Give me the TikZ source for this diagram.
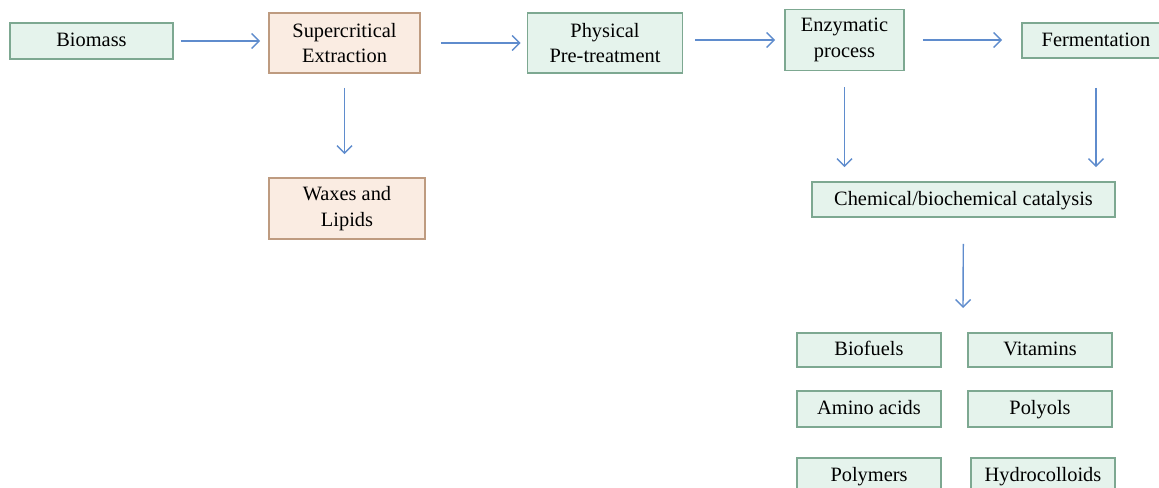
\documentclass[tikz,border=0pt]{standalone}
\usepackage{fontspec}
\setmainfont{Liberation Serif}
\usetikzlibrary{arrows.meta}
\definecolor{boxgreen}{RGB}{229,243,236}
\definecolor{linegreen}{RGB}{125,168,145}
\definecolor{boxpeach}{RGB}{250,236,226}
\definecolor{linepeach}{RGB}{190,155,128}
\definecolor{arrowblue}{RGB}{95,140,205}
\begin{document}
\begin{tikzpicture}
                \tikzstyle{gbox}=[rectangle, draw=linegreen, fill=boxgreen, line width=0.9pt, align=center, inner sep=0pt, font=\fontsize{11.6}{14.5}\selectfont]
                \tikzstyle{pbox}=[gbox, draw=linepeach, fill=boxpeach]
                \tikzstyle{sbox}=[gbox, text height=0.9em, text depth=0.24em]
                \tikzstyle{arr}=[draw=arrowblue, line width=0.8pt, -{Straight Barb[length=1.5mm, width=3mm]}]
                \useasboundingbox (0,0) rectangle (23.18,-9.76);

                \node[sbox, minimum width=3.26cm, minimum height=0.72cm] (bio) at (1.83,-0.82) {Biomass};
                \node[pbox, minimum width=3.02cm, minimum height=1.2cm]  (sce) at (6.89,-0.86) {Supercritical\\Extraction};
                \node[gbox, minimum width=3.1cm, minimum height=1.2cm]   (phy) at (12.1,-0.86) {Physical\\Pre-treatment};
                \node[gbox, minimum width=2.38cm, minimum height=1.22cm] (enz) at (16.89,-0.80) {Enzymatic\\process};
                \node[sbox, minimum width=2.96cm, minimum height=0.7cm]  (fer) at (21.92,-0.81) {Fermentation};
                \node[pbox, minimum width=3.12cm, minimum height=1.22cm] (wax) at (6.94,-4.17) {Waxes and\\Lipids};
                \node[sbox, minimum width=6.06cm, minimum height=0.7cm]  (cat) at (19.27,-3.99) {Chemical/biochemical catalysis};
                \coordinate (prod) at (19.26,-6.16);

                \node[sbox, minimum width=2.88cm, minimum height=0.68cm] (bfu) at (17.38,-7.0)  {Biofuels};
                \node[sbox, minimum width=2.88cm, minimum height=0.68cm] (vit) at (20.8,-7.0)   {Vitamins};
                \node[sbox, minimum width=2.88cm, minimum height=0.72cm] (ami) at (17.38,-8.18) {Amino acids};
                \node[sbox, minimum width=2.88cm, minimum height=0.72cm] (pol) at (20.8,-8.18)  {Polyols};
                \node[sbox, minimum width=2.88cm, minimum height=0.7cm]  (pym) at (17.38,-9.51) {Polymers};
                \node[sbox, minimum width=2.88cm, minimum height=0.7cm]  (hyd) at (20.86,-9.51) {Hydrocolloids};

                \draw[arr, shorten <=0.14cm, shorten >=0.16cm] (bio) -- (bio -| sce.west);
                \draw[arr, shorten <=0.4cm, shorten >=0.12cm] (sce) -- (sce -| phy.west);
                \draw[arr, shorten <=0.24cm, shorten >=0.18cm] (phy.east |- enz) -- (enz);
                \draw[arr, shorten <=0.36cm, shorten >=0.38cm] (enz) -- (enz -| fer.west);
                \draw[arr, shorten <=0.28cm, shorten >=0.46cm] (sce) -- (sce |- wax.north);
                \draw[arr, shorten <=0.32cm, shorten >=0.28cm] (enz) -- (enz |- cat.north);
                \draw[arr, shorten <=0.58cm, shorten >=0.28cm] (fer) -- (fer |- cat.north);
                \draw[arr, shorten <=0.52cm] (cat) -- (prod);
            \end{tikzpicture}
\end{document}
